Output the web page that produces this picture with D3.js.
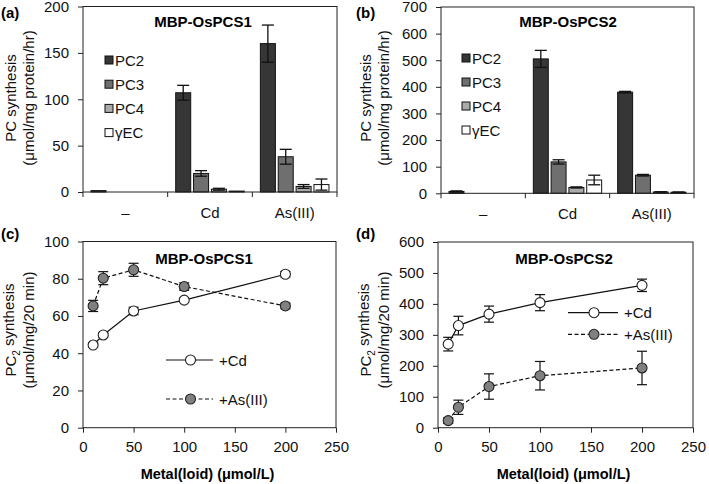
<!DOCTYPE html>
<html>
<head>
<meta charset="utf-8">
<script src="https://cdn.jsdelivr.net/npm/d3@7"></script>
<style>
  body { margin: 0; background: #fff; }
  svg { display: block; font-family: "Liberation Sans", Arial, Helvetica, sans-serif; }
  .axis text { font-size: 15px; fill: #111; }
  .axis path, .axis line { stroke: #222; }
</style>
</head>
<body>
<div id="chart"></div>
<script>
// ---- data ----
var categories = ["–", "Cd", "As(III)"];
var pcSeries = ["PC2", "PC3", "PC4", "γEC"];

// panel (a) MBP-OsPCS1, umol/mg protein/hr, one value per category
var pcs1Values = {
    "PC2": [1.5, 107, 160],
    "PC3": [0, 20, 38],
    "PC4": [0, 3, 6],
    "γEC": [0, 1, 8]
};
var pcs1Errors = {
    "PC2": [0.3, 8, 20],
    "PC3": [0, 3, 8],
    "PC4": [0, 1, 2],
    "γEC": [0, 0.5, 6]
};

// panel (b) MBP-OsPCS2
var pcs2Values = {
    "PC2": [7, 505, 380],
    "PC3": [0, 118, 68],
    "PC4": [0, 22, 5],
    "γEC": [0, 50, 4]
};
var pcs2Errors = {
    "PC2": [2, 32, 3],
    "PC3": [0, 8, 3],
    "PC4": [0, 2, 1],
    "γEC": [0, 18, 1]
};

// panels (c) and (d): PC2 synthesis vs metal(loid) concentration
var concentrations = [10, 20, 50, 100, 200];
var pcs1Cd = [44.4, 49.8, 62.7, 68.5, 82.4];
var pcs1CdErr = [1, 1.2, 2, 1, 1.5];
var pcs1As = [65.4, 80.3, 84.8, 75.8, 65.4];
var pcs1AsErr = [3, 3.5, 3.5, 2, 1.5];
var pcs2Cd = [270, 330, 367, 404, 460];
var pcs2CdErr = [22, 30, 26, 26, 20];
var pcs2As = [23, 66, 133, 168, 193];
var pcs2AsErr = [9, 23, 41, 46, 54];

var barColors = { "PC2": "#363636", "PC3": "#6f6f6f", "PC4": "#ababab", "γEC": "#ffffff" };

var svg = d3.select("#chart").append("svg")
    .attr("width", 709)
    .attr("height", 484);

// y axis title (two rotated lines)
function yTitle(g, x1, x2, cy, line1, line2, sub) {
    var t1 = g.append("text")
        .attr("transform", "translate(" + x1 + "," + cy + ") rotate(-90)")
        .attr("text-anchor", "middle")
        .attr("font-size", 15)
        .attr("fill", "#111");
    if (sub) {
        t1.append("tspan").text("PC");
        t1.append("tspan").attr("font-size", 10).attr("dy", "0.35em").text("2");
        t1.append("tspan").attr("dy", "-0.35em").text(" synthesis");
    } else {
        t1.text(line1);
    }
    g.append("text")
        .attr("transform", "translate(" + x2 + "," + cy + ") rotate(-90)")
        .attr("text-anchor", "middle")
        .attr("font-size", 15)
        .attr("fill", "#111")
        .text(line2);
}

/*
 * BarVis - grouped bar chart with error bars (panels a, b)
 */
var BarVis = function (_config, _values, _errors) {
    this.config = _config;
    this.values = _values;
    this.errors = _errors;
    this.initVis();
};

BarVis.prototype.initVis = function () {
    var vis = this;
    var c = vis.config;

    vis.g = svg.append("g").attr("transform", "translate(" + c.left + "," + c.top + ")");

    vis.x = d3.scaleBand().domain(categories).range([0, c.width]);
    vis.xInner = d3.scaleBand().domain(pcSeries).range([0, vis.x.bandwidth()])
        .paddingInner(0.16).paddingOuter(0.45);
    vis.y = d3.scaleLinear().domain([0, c.yMax]).range([c.height, 0]);

    // y axis
    vis.g.append("g").attr("class", "axis")
        .call(d3.axisLeft(vis.y).tickValues(d3.range(0, c.yMax + 1, c.yStep)).tickSize(5).tickPadding(9).tickSizeOuter(0))
        .call(function (g) { g.select(".domain").remove(); });

    // category labels
    vis.g.append("g").attr("class", "axis")
        .attr("transform", "translate(0," + c.height + ")")
        .call(d3.axisBottom(vis.x).tickSize(0).tickPadding(15))
        .call(function (g) { g.select(".domain").remove(); });

    // boundary ticks between categories
    vis.g.selectAll(".bound").data(d3.range(categories.length + 1))
        .enter().append("line")
        .attr("x1", function (i) { return i * vis.x.step(); })
        .attr("x2", function (i) { return i * vis.x.step(); })
        .attr("y1", c.height)
        .attr("y2", c.height + 5)
        .attr("stroke", "#222");

    // bars
    var rows = [];
    pcSeries.forEach(function (s) {
        categories.forEach(function (cat, i) {
            rows.push({ series: s, cat: cat, v: vis.values[s][i], e: vis.errors[s][i] });
        });
    });
    rows = rows.filter(function (d) { return d.v > 0; });

    vis.g.selectAll(".bar").data(rows).enter().append("rect")
        .attr("x", function (d) { return vis.x(d.cat) + vis.xInner(d.series); })
        .attr("width", vis.xInner.bandwidth())
        .attr("y", function (d) { return vis.y(d.v); })
        .attr("height", function (d) { return vis.y(0) - vis.y(d.v); })
        .attr("fill", function (d) { return barColors[d.series]; })
        .attr("stroke", "#111")
        .attr("stroke-width", 1);

    // error bars
    var eb = vis.g.selectAll(".err").data(rows.filter(function (d) { return d.e > 0.8; }))
        .enter().append("g")
        .attr("transform", function (d) {
            return "translate(" + (vis.x(d.cat) + vis.xInner(d.series) + vis.xInner.bandwidth() / 2) + ",0)";
        });
    eb.append("line")
        .attr("y1", function (d) { return vis.y(d.v - d.e); })
        .attr("y2", function (d) { return vis.y(d.v + d.e); })
        .attr("stroke", "#111").attr("stroke-width", 1.3);
    eb.selectAll(".cap").data(function (d) { return [d.v - d.e, d.v + d.e]; })
        .enter().append("line")
        .attr("x1", -6).attr("x2", 6)
        .attr("y1", function (v) { return vis.y(v); })
        .attr("y2", function (v) { return vis.y(v); })
        .attr("stroke", "#111").attr("stroke-width", 1.3);

    // box
    vis.g.append("rect")
        .attr("width", c.width).attr("height", c.height)
        .attr("fill", "none").attr("stroke", "#222");

    // legend
    var leg = vis.g.selectAll(".leg").data(pcSeries).enter().append("g")
        .attr("transform", function (d, i) { return "translate(" + c.legX + "," + (c.legY + i * c.legStep) + ")"; });
    leg.append("rect")
        .attr("x", 0).attr("y", -4).attr("width", 8).attr("height", 8)
        .attr("fill", function (d) { return barColors[d]; })
        .attr("stroke", "#111");
    leg.append("text")
        .attr("x", 10).attr("y", 5.5)
        .attr("font-size", 15).attr("fill", "#111")
        .text(function (d) { return d; });

    // title
    vis.g.append("text")
        .attr("x", c.titleX).attr("y", 20)
        .attr("text-anchor", "middle")
        .attr("font-size", 15).attr("font-weight", "bold")
        .text(c.title);
};

/*
 * LineVis - two series with error bars vs concentration (panels c, d)
 */
var LineVis = function (_config, _cd, _cdErr, _as, _asErr) {
    this.config = _config;
    this.series = [
        { name: "+Cd", values: _cd, errors: _cdErr, fill: "#ffffff", dash: null },
        { name: "+As(III)", values: _as, errors: _asErr, fill: "#808080", dash: "4,2.5" }
    ];
    this.initVis();
};

LineVis.prototype.initVis = function () {
    var vis = this;
    var c = vis.config;

    vis.g = svg.append("g").attr("transform", "translate(" + c.left + "," + c.top + ")");

    vis.x = d3.scaleLinear().domain([0, 250]).range([0, c.width]);
    vis.y = d3.scaleLinear().domain([0, c.yMax]).range([c.height, 0]);

    vis.g.append("g").attr("class", "axis")
        .attr("transform", "translate(0," + c.height + ")")
        .call(d3.axisBottom(vis.x).tickValues(d3.range(0, 251, 50)).tickSize(5).tickPadding(9).tickSizeOuter(0))
        .call(function (g) { g.select(".domain").remove(); });

    vis.g.append("g").attr("class", "axis")
        .call(d3.axisLeft(vis.y).tickValues(d3.range(0, c.yMax + 1, c.yStep)).tickSize(5).tickPadding(9).tickSizeOuter(0))
        .call(function (g) { g.select(".domain").remove(); });

    vis.g.append("rect")
        .attr("width", c.width).attr("height", c.height)
        .attr("fill", "none").attr("stroke", "#222");

    var line = d3.line()
        .x(function (d, i) { return vis.x(concentrations[i]); })
        .y(function (d) { return vis.y(d); });

    vis.series.forEach(function (s) {
        vis.g.append("path")
            .datum(s.values)
            .attr("d", line)
            .attr("fill", "none")
            .attr("stroke", "#111")
            .attr("stroke-width", 1.2)
            .attr("stroke-dasharray", s.dash);

        var pts = s.values.map(function (v, i) { return { x: concentrations[i], v: v, e: s.errors[i] }; });
        var eb = vis.g.selectAll(null).data(pts).enter().append("g")
            .attr("transform", function (d) { return "translate(" + vis.x(d.x) + ",0)"; });
        eb.append("line")
            .attr("y1", function (d) { return vis.y(d.v - d.e); })
            .attr("y2", function (d) { return vis.y(d.v + d.e); })
            .attr("stroke", "#111").attr("stroke-width", 1.2);
        eb.selectAll(".cap").data(function (d) { return [d.v - d.e, d.v + d.e]; })
            .enter().append("line")
            .attr("x1", -5).attr("x2", 5)
            .attr("y1", function (v) { return vis.y(v); })
            .attr("y2", function (v) { return vis.y(v); })
            .attr("stroke", "#111").attr("stroke-width", 1.2);
        eb.append("circle")
            .attr("cy", function (d) { return vis.y(d.v); })
            .attr("r", 5)
            .attr("fill", s.fill)
            .attr("stroke", "#222")
            .attr("stroke-width", 1.1);
    });

    // legend
    var leg = vis.g.selectAll(".leg").data(vis.series).enter().append("g")
        .attr("transform", function (d, i) { return "translate(" + c.legX + "," + (c.legY + i * c.legStep) + ")"; });
    leg.append("line")
        .attr("x1", 0).attr("x2", c.legLen)
        .attr("stroke", "#111").attr("stroke-width", 1.2)
        .attr("stroke-dasharray", function (d) { return d.dash; });
    leg.append("circle")
        .attr("cx", c.legLen / 2 + 1).attr("r", 5)
        .attr("fill", function (d) { return d.fill; })
        .attr("stroke", "#222").attr("stroke-width", 1.1);
    leg.append("text")
        .attr("x", c.legLen + 6).attr("y", 5.5)
        .attr("font-size", 15).attr("fill", "#111")
        .text(function (d) { return d.name; });

    vis.g.append("text")
        .attr("x", c.titleX).attr("y", 22)
        .attr("text-anchor", "middle")
        .attr("font-size", 15).attr("font-weight", "bold")
        .text(c.title);

    vis.g.append("text")
        .attr("x", c.width / 2 - 2).attr("y", c.height + 51)
        .attr("text-anchor", "middle")
        .attr("font-size", 14.5).attr("font-weight", "bold")
        .text("Metal(loid) (μmol/L)");
};

// panel letters
var panelLetters = [["(a)", 1, 18], ["(b)", 356, 18], ["(c)", 1, 239], ["(d)", 356, 239]];
panelLetters.forEach(function (p) {
    svg.append("text").attr("x", p[1]).attr("y", p[2])
        .attr("font-size", 15).attr("font-weight", "bold").text(p[0]);
});

yTitle(svg, 16, 34, 98, "PC synthesis", "(μmol/mg protein/hr)", false);
yTitle(svg, 371, 389, 98, "PC synthesis", "(μmol/mg protein/hr)", false);
yTitle(svg, 16, 34, 330, null, "(μmol/mg/20 min)", true);
yTitle(svg, 371, 389, 330, null, "(μmol/mg/20 min)", true);

new BarVis({ left: 83, top: 6.5, width: 254, height: 185.5, yMax: 200, yStep: 50,
    legX: 22, legY: 53.5, legStep: 24.2, title: "MBP-OsPCS1", titleX: 120 }, pcs1Values, pcs1Errors);
new BarVis({ left: 441, top: 7, width: 253, height: 186.3, yMax: 700, yStep: 100,
    legX: 21, legY: 51, legStep: 24, title: "MBP-OsPCS2", titleX: 127 }, pcs2Values, pcs2Errors);

new LineVis({ left: 83, top: 241.5, width: 253, height: 186.2, yMax: 100, yStep: 20,
    legX: 83, legY: 118.5, legStep: 39, legLen: 47, title: "MBP-OsPCS1", titleX: 121 },
    pcs1Cd, pcs1CdErr, pcs1As, pcs1AsErr);
new LineVis({ left: 438, top: 242, width: 255, height: 185.7, yMax: 600, yStep: 100,
    legX: 130, legY: 70.7, legStep: 21.6, legLen: 50, title: "MBP-OsPCS2", titleX: 126 },
    pcs2Cd, pcs2CdErr, pcs2As, pcs2AsErr);
</script>
</body>
</html>
